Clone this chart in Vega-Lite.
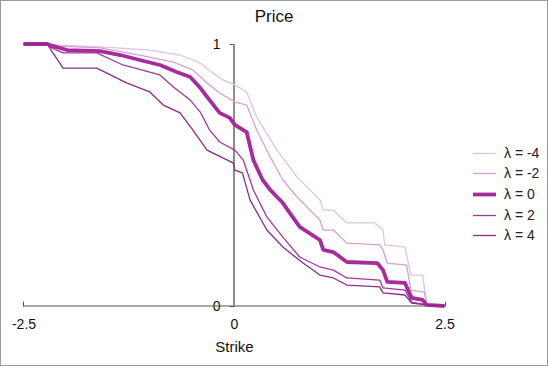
{
  "$schema": "https://vega.github.io/schema/vega-lite/v6.json",
  "width": 548,
  "height": 366,
  "autosize": {"type": "none"},
  "padding": 0,
  "background": "white",
  "config": {
    "view": {"stroke": "#9a9a9a", "strokeWidth": 2},
    "font": "Liberation Sans"
  },
  "title": {"text": "Price", "fontSize": 17, "fontWeight": "normal", "color": "#111", "anchor": "middle", "offset": -26},
  "resolve": {"axis": {"x": "independent", "y": "independent"}},
  "layer": [
    {
      "data": {"values": [{"xa": -2.5, "xb": 2.5, "yv": 0}]},
      "mark": {"type": "rule", "color": "#555", "strokeWidth": 1},
      "encoding": {
        "x": {"field": "xa", "type": "quantitative", "axis": null},
        "x2": {"field": "xb"},
        "y": {"field": "yv", "type": "quantitative", "axis": null}
      }
    },
    {
      "data": {"values": [{"xv": 0, "ya": 0, "yb": 1}]},
      "mark": {"type": "rule", "color": "#8c8c8c", "strokeWidth": 2},
      "encoding": {
        "x": {"field": "xv", "type": "quantitative", "axis": null},
        "y": {"field": "ya", "type": "quantitative", "axis": null},
        "y2": {"field": "yb"}
      }
    },
    {
      "data": {"values": [
        {"lambda": "λ = -4", "strike": -2.5, "price": 1},
        {"lambda": "λ = -4", "strike": -2.21, "price": 1},
        {"lambda": "λ = -4", "strike": -2.07, "price": 0.996},
        {"lambda": "λ = -4", "strike": -1.59, "price": 0.989},
        {"lambda": "λ = -4", "strike": -1.0, "price": 0.977},
        {"lambda": "λ = -4", "strike": -0.64, "price": 0.958},
        {"lambda": "λ = -4", "strike": -0.4, "price": 0.927},
        {"lambda": "λ = -4", "strike": -0.25, "price": 0.889},
        {"lambda": "λ = -4", "strike": -0.13, "price": 0.863},
        {"lambda": "λ = -4", "strike": 0.01, "price": 0.844},
        {"lambda": "λ = -4", "strike": 0.15, "price": 0.817},
        {"lambda": "λ = -4", "strike": 0.27, "price": 0.721},
        {"lambda": "λ = -4", "strike": 0.51, "price": 0.595},
        {"lambda": "λ = -4", "strike": 0.75, "price": 0.492},
        {"lambda": "λ = -4", "strike": 1.02, "price": 0.405},
        {"lambda": "λ = -4", "strike": 1.06, "price": 0.366},
        {"lambda": "λ = -4", "strike": 1.18, "price": 0.366},
        {"lambda": "λ = -4", "strike": 1.34, "price": 0.317},
        {"lambda": "λ = -4", "strike": 1.67, "price": 0.317},
        {"lambda": "λ = -4", "strike": 1.77, "price": 0.29},
        {"lambda": "λ = -4", "strike": 1.79, "price": 0.233},
        {"lambda": "λ = -4", "strike": 2.03, "price": 0.225},
        {"lambda": "λ = -4", "strike": 2.1, "price": 0.118},
        {"lambda": "λ = -4", "strike": 2.24, "price": 0.118},
        {"lambda": "λ = -4", "strike": 2.29, "price": 0.004},
        {"lambda": "λ = -4", "strike": 2.5, "price": 0},

        {"lambda": "λ = -2", "strike": -2.5, "price": 1},
        {"lambda": "λ = -2", "strike": -2.21, "price": 1},
        {"lambda": "λ = -2", "strike": -2.07, "price": 0.992},
        {"lambda": "λ = -2", "strike": -1.59, "price": 0.985},
        {"lambda": "λ = -2", "strike": -1.12, "price": 0.958},
        {"lambda": "λ = -2", "strike": -0.72, "price": 0.931},
        {"lambda": "λ = -2", "strike": -0.49, "price": 0.901},
        {"lambda": "λ = -2", "strike": -0.32, "price": 0.851},
        {"lambda": "λ = -2", "strike": -0.17, "price": 0.813},
        {"lambda": "λ = -2", "strike": 0.01, "price": 0.779},
        {"lambda": "λ = -2", "strike": 0.15, "price": 0.767},
        {"lambda": "λ = -2", "strike": 0.27, "price": 0.672},
        {"lambda": "λ = -2", "strike": 0.43, "price": 0.569},
        {"lambda": "λ = -2", "strike": 0.58, "price": 0.481},
        {"lambda": "λ = -2", "strike": 0.75, "price": 0.416},
        {"lambda": "λ = -2", "strike": 1.02, "price": 0.328},
        {"lambda": "λ = -2", "strike": 1.06, "price": 0.29},
        {"lambda": "λ = -2", "strike": 1.18, "price": 0.29},
        {"lambda": "λ = -2", "strike": 1.34, "price": 0.24},
        {"lambda": "λ = -2", "strike": 1.73, "price": 0.233},
        {"lambda": "λ = -2", "strike": 1.77, "price": 0.214},
        {"lambda": "λ = -2", "strike": 1.82, "price": 0.164},
        {"lambda": "λ = -2", "strike": 2.05, "price": 0.156},
        {"lambda": "λ = -2", "strike": 2.1, "price": 0.061},
        {"lambda": "λ = -2", "strike": 2.26, "price": 0.053},
        {"lambda": "λ = -2", "strike": 2.29, "price": 0.004},
        {"lambda": "λ = -2", "strike": 2.5, "price": 0},

        {"lambda": "λ = 0", "strike": -2.5, "price": 1},
        {"lambda": "λ = 0", "strike": -2.21, "price": 1},
        {"lambda": "λ = 0", "strike": -2.19, "price": 0.996},
        {"lambda": "λ = 0", "strike": -1.98, "price": 0.977},
        {"lambda": "λ = 0", "strike": -1.59, "price": 0.973},
        {"lambda": "λ = 0", "strike": -1.35, "price": 0.958},
        {"lambda": "λ = 0", "strike": -1.12, "price": 0.939},
        {"lambda": "λ = 0", "strike": -0.88, "price": 0.92},
        {"lambda": "λ = 0", "strike": -0.68, "price": 0.893},
        {"lambda": "λ = 0", "strike": -0.52, "price": 0.874},
        {"lambda": "λ = 0", "strike": -0.4, "price": 0.832},
        {"lambda": "λ = 0", "strike": -0.29, "price": 0.786},
        {"lambda": "λ = 0", "strike": -0.17, "price": 0.737},
        {"lambda": "λ = 0", "strike": -0.05, "price": 0.718},
        {"lambda": "λ = 0", "strike": 0.01, "price": 0.691},
        {"lambda": "λ = 0", "strike": 0.15, "price": 0.664},
        {"lambda": "λ = 0", "strike": 0.23, "price": 0.557},
        {"lambda": "λ = 0", "strike": 0.34, "price": 0.481},
        {"lambda": "λ = 0", "strike": 0.43, "price": 0.443},
        {"lambda": "λ = 0", "strike": 0.58, "price": 0.393},
        {"lambda": "λ = 0", "strike": 0.78, "price": 0.302},
        {"lambda": "λ = 0", "strike": 1.02, "price": 0.252},
        {"lambda": "λ = 0", "strike": 1.06, "price": 0.214},
        {"lambda": "λ = 0", "strike": 1.18, "price": 0.206},
        {"lambda": "λ = 0", "strike": 1.34, "price": 0.168},
        {"lambda": "λ = 0", "strike": 1.7, "price": 0.164},
        {"lambda": "λ = 0", "strike": 1.77, "price": 0.137},
        {"lambda": "λ = 0", "strike": 1.82, "price": 0.092},
        {"lambda": "λ = 0", "strike": 2.03, "price": 0.088},
        {"lambda": "λ = 0", "strike": 2.11, "price": 0.031},
        {"lambda": "λ = 0", "strike": 2.24, "price": 0.023},
        {"lambda": "λ = 0", "strike": 2.29, "price": 0.004},
        {"lambda": "λ = 0", "strike": 2.5, "price": 0},

        {"lambda": "λ = 2", "strike": -2.5, "price": 1},
        {"lambda": "λ = 2", "strike": -2.21, "price": 1},
        {"lambda": "λ = 2", "strike": -2.19, "price": 0.989},
        {"lambda": "λ = 2", "strike": -2.03, "price": 0.966},
        {"lambda": "λ = 2", "strike": -1.63, "price": 0.966},
        {"lambda": "λ = 2", "strike": -1.32, "price": 0.92},
        {"lambda": "λ = 2", "strike": -0.88, "price": 0.882},
        {"lambda": "λ = 2", "strike": -0.72, "price": 0.836},
        {"lambda": "λ = 2", "strike": -0.52, "price": 0.786},
        {"lambda": "λ = 2", "strike": -0.4, "price": 0.74},
        {"lambda": "λ = 2", "strike": -0.29, "price": 0.672},
        {"lambda": "λ = 2", "strike": -0.17, "price": 0.626},
        {"lambda": "λ = 2", "strike": 0.01, "price": 0.595},
        {"lambda": "λ = 2", "strike": 0.11, "price": 0.557},
        {"lambda": "λ = 2", "strike": 0.23, "price": 0.443},
        {"lambda": "λ = 2", "strike": 0.39, "price": 0.34},
        {"lambda": "λ = 2", "strike": 0.58, "price": 0.263},
        {"lambda": "λ = 2", "strike": 0.78, "price": 0.187},
        {"lambda": "λ = 2", "strike": 1.02, "price": 0.149},
        {"lambda": "λ = 2", "strike": 1.18, "price": 0.137},
        {"lambda": "λ = 2", "strike": 1.34, "price": 0.107},
        {"lambda": "λ = 2", "strike": 1.73, "price": 0.099},
        {"lambda": "λ = 2", "strike": 1.77, "price": 0.069},
        {"lambda": "λ = 2", "strike": 2.03, "price": 0.061},
        {"lambda": "λ = 2", "strike": 2.11, "price": 0.015},
        {"lambda": "λ = 2", "strike": 2.29, "price": 0.004},
        {"lambda": "λ = 2", "strike": 2.5, "price": 0},

        {"lambda": "λ = 4", "strike": -2.5, "price": 1},
        {"lambda": "λ = 4", "strike": -2.21, "price": 1},
        {"lambda": "λ = 4", "strike": -2.19, "price": 0.985},
        {"lambda": "λ = 4", "strike": -2.03, "price": 0.908},
        {"lambda": "λ = 4", "strike": -1.63, "price": 0.908},
        {"lambda": "λ = 4", "strike": -1.27, "price": 0.851},
        {"lambda": "λ = 4", "strike": -1.0, "price": 0.817},
        {"lambda": "λ = 4", "strike": -0.84, "price": 0.767},
        {"lambda": "λ = 4", "strike": -0.64, "price": 0.737},
        {"lambda": "λ = 4", "strike": -0.49, "price": 0.672},
        {"lambda": "λ = 4", "strike": -0.32, "price": 0.595},
        {"lambda": "λ = 4", "strike": -0.2, "price": 0.576},
        {"lambda": "λ = 4", "strike": -0.01, "price": 0.546},
        {"lambda": "λ = 4", "strike": 0.01, "price": 0.519},
        {"lambda": "λ = 4", "strike": 0.1, "price": 0.508},
        {"lambda": "λ = 4", "strike": 0.19, "price": 0.405},
        {"lambda": "λ = 4", "strike": 0.39, "price": 0.29},
        {"lambda": "λ = 4", "strike": 0.58, "price": 0.225},
        {"lambda": "λ = 4", "strike": 0.82, "price": 0.164},
        {"lambda": "λ = 4", "strike": 1.02, "price": 0.118},
        {"lambda": "λ = 4", "strike": 1.18, "price": 0.107},
        {"lambda": "λ = 4", "strike": 1.34, "price": 0.08},
        {"lambda": "λ = 4", "strike": 1.73, "price": 0.073},
        {"lambda": "λ = 4", "strike": 1.77, "price": 0.05},
        {"lambda": "λ = 4", "strike": 2.03, "price": 0.042},
        {"lambda": "λ = 4", "strike": 2.11, "price": 0.011},
        {"lambda": "λ = 4", "strike": 2.29, "price": 0.004},
        {"lambda": "λ = 4", "strike": 2.5, "price": 0}
      ]},
      "mark": {"type": "line", "interpolate": "linear", "strokeJoin": "round"},
      "encoding": {
        "x": {
          "field": "strike", "type": "quantitative",
          "scale": {"domain": [-2.779, 3.729], "nice": false, "zero": false},
          "axis": {
            "values": [-2.5, 0, 2.5], "labelExpr": "toString(datum.value)", "title": "Strike", "offset": -60,
            "domain": false, "grid": false, "tickSize": -5, "tickColor": "#555",
            "labelPadding": 16, "labelFontSize": 14, "labelColor": "#111",
            "titleFontSize": 15, "titleFontWeight": "normal", "titleColor": "#111",
            "titleX": 234, "titleY": 40, "titleBaseline": "middle"
          }
        },
        "y": {
          "field": "price", "type": "quantitative",
          "scale": {"domain": [-0.229, 1.168], "nice": false, "zero": false},
          "axis": {
            "values": [0, 1], "labelExpr": "toString(datum.value)", "title": null, "offset": -234,
            "domain": false, "grid": false, "tickSize": 5, "tickColor": "#555",
            "labelPadding": 9, "labelFontSize": 14, "labelColor": "#111"
          }
        },
        "color": {
          "field": "lambda", "type": "nominal",
          "scale": {
            "domain": ["λ = -4", "λ = -2", "λ = 0", "λ = 2", "λ = 4"],
            "range": ["#e0c3e0", "#d1a3cf", "#a72b9d", "#a2399b", "#8d2b87"]
          },
          "legend": {
            "title": null, "orient": "none", "legendX": 471, "legendY": 141,
            "symbolType": "stroke", "symbolSize": 529, "rowPadding": 0,
            "labelOffset": 6, "labelFontSize": 14, "labelColor": "#222", "padding": 0
          }
        },
        "strokeWidth": {
          "field": "lambda", "type": "nominal",
          "scale": {
            "type": "ordinal",
            "domain": ["λ = -4", "λ = -2", "λ = 0", "λ = 2", "λ = 4"],
            "range": [1.3, 1.3, 3.8, 1.3, 1.3]
          },
          "legend": {
            "title": null, "orient": "none", "legendX": 471, "legendY": 141,
            "symbolType": "stroke", "symbolSize": 529, "rowPadding": 0,
            "labelOffset": 6, "labelFontSize": 14, "labelColor": "#222", "padding": 0
          }
        }
      }
    }
  ]
}
